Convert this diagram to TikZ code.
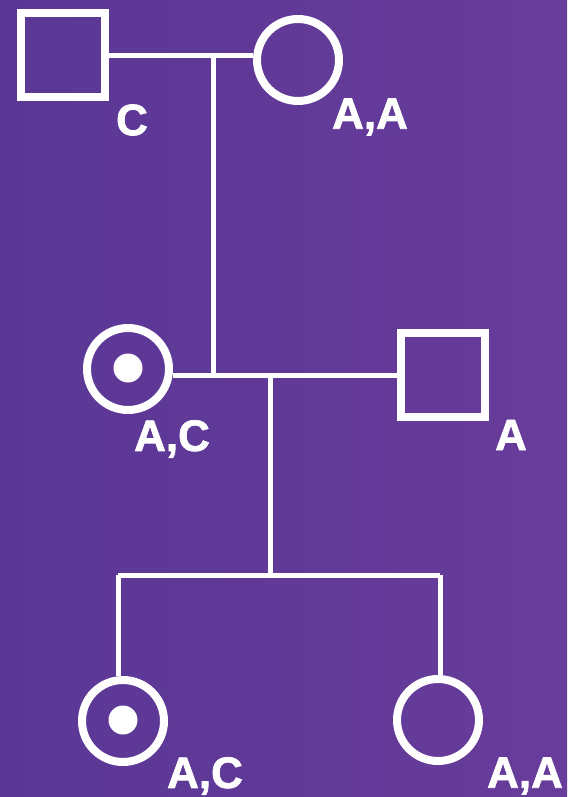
\documentclass[tikz,border=0pt]{standalone}
\usepackage{fontspec}
\setmainfont{Liberation Sans}[BoldFeatures={FakeBold=1.6}]
\definecolor{bgleft}{RGB}{90,55,150}
\definecolor{bgright}{RGB}{104,60,154}
\tikzset{
  male/.style={draw=white, line width=8pt, rectangle, minimum size=84pt, inner sep=0pt},
  female/.style={draw=white, line width=8pt, circle, minimum size=82pt, inner sep=0pt},
  carrierdot/.style={fill=white, circle, minimum size=29pt, inner sep=0pt},
  link/.style={draw=white, line width=5pt},
  geno/.style={text=white, inner sep=0pt, font=\bfseries\fontsize{44}{44}\selectfont}
}
\begin{document}
\begin{tikzpicture}[x=1pt, y=-1pt]
  % background
  \shade[left color=bgleft, right color=bgright] (0,0) rectangle (567,797);
  \useasboundingbox (0,0) rectangle (567,797);

  % generation I
  \node[male]   (gf) at (63,55)  {};
  \node[female] (gm) at (298,60) {};
  \node[geno] at (132,120) {C};
  \node[geno] at (370,117) {A,A};

  % generation II
  \node[female] (mo) at (128,369) {};
  \node[carrierdot] at (128,368) {};
  \node[male]   (fa) at (443,375) {};
  \node[geno] at (172,439) {A,C};
  \node[geno] at (511,435) {A};

  % generation III
  \node[female] (d1) at (123,721) {};
  \node[carrierdot] at (123,720) {};
  \node[female] (d2) at (438,720) {};
  \node[geno] at (205,776) {A,C};
  \node[geno] at (525,776) {A,A};

  % connectors
  \coordinate (m1) at (213,56);
  \coordinate (m2) at (270,375);
  \coordinate (sl) at (118,575);
  \coordinate (sr) at (440,575);
  \draw[link] (gf.east |- m1) -- (gm.west |- m1);
  \draw[link] (m1) -- (213,375);
  \draw[link] (mo.east |- m2) -- (fa.west |- m2);
  \draw[link] (m2) -- (270,575);
  \draw[link] (sl) -- (sr);
  \draw[link] (sl) -- (sl |- d1.north);
  \draw[link] (sr) -- (sr |- d2.north);
\end{tikzpicture}
\end{document}
